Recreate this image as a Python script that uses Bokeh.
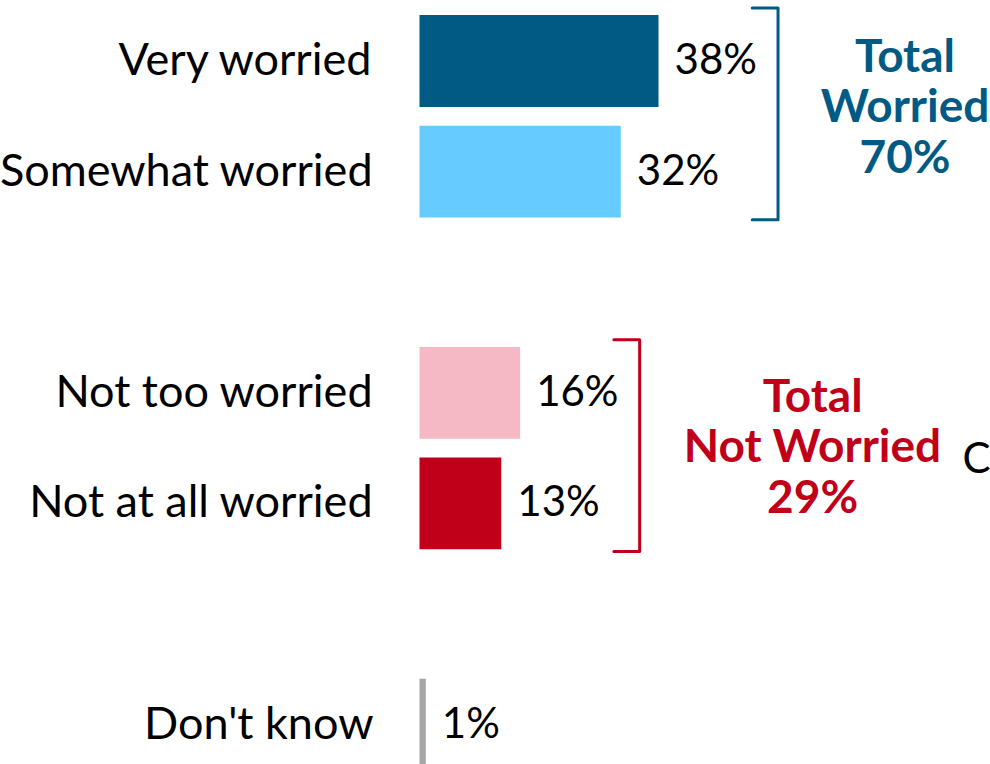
from bokeh.plotting import figure
from bokeh.models import Range1d, ColumnDataSource, Label
from bokeh.core.properties import value
from bokeh.embed import file_html
from bokeh.resources import INLINE

# ---- data ----
categories = ["Very worried", "Somewhat worried", "Not too worried", "Not at all worried", "Don't know"]
percentages = [38, 32, 16, 13, 1]
positions = [0, 1, 3, 4, 6]
bar_colors = ["#005A84", "#66CCFF", "#F4B9C5", "#C00018", "#A6A6A6"]

group_titles = [["Total", "Worried"], ["Total", "Not Worried"]]
group_totals = [70, 29]
group_members = [[0, 1], [2, 3]]
group_colors = ["#005A84", "#C00018"]

# ---- layout (pixels) ----
W, H = 990, 764
X0 = 419.0          # pixel of 0 %
PX_PER_PCT = 6.29
Y0 = 60.5           # pixel centre of position 0
PX_PER_POS = 110.6
FONT = "Lato"
LABEL_SIZE = "45px"
VALUE_SIZE = "42px"

p = figure(width=W, height=H, output_backend="svg", toolbar_location=None,
           x_range=Range1d(-X0 / PX_PER_PCT, (W - X0) / PX_PER_PCT),
           y_range=Range1d((H - Y0) / PX_PER_POS, -Y0 / PX_PER_POS),
           x_axis_location=None, y_axis_location=None,
           min_border=0, border_fill_color="white", background_fill_color="white")
p.grid.visible = False
p.outline_line_color = None

src = ColumnDataSource(dict(
    cat=categories, pct=percentages, pos=positions, color=bar_colors,
    lbl=[f"{v}%" for v in percentages],
))

p.hbar(y="pos", left=0, right="pct", height=0.83, fill_color="color",
       line_color=None, source=src)

# category labels
p.text(x=0, y="pos", text="cat", source=src, x_offset=-46, y_offset=-3,
       text_align="right", text_baseline="alphabetic",
       text_font=value(FONT), text_font_size=LABEL_SIZE, text_color="black")

# value labels
p.text(x="pct", y="pos", text="lbl", source=src, x_offset=16, y_offset=-3,
       text_align="left", text_baseline="alphabetic",
       text_font=value(FONT), text_font_size=VALUE_SIZE, text_color="black")

# brackets and group totals
bracket_gap = 19.0
tick_len = 4.1
text_dx = [127, 173]          # px from bracket to text centre
first_base = [-62, -54]       # px from group centre to first line
line_step = 50.5
for gi, members in enumerate(group_members):
    top = positions[members[0]] - 0.48
    bot = positions[members[-1]] + 0.435
    xv = max(percentages[m] for m in members) + bracket_gap
    p.line(x=[xv - tick_len, xv, xv, xv - tick_len], y=[top, top, bot, bot],
           line_width=3, line_color=group_colors[gi], line_join="round", line_cap="round")
    yc = (positions[members[0]] + positions[members[-1]]) / 2
    lines = group_titles[gi] + [f"{group_totals[gi]}%"]
    for li, t in enumerate(lines):
        p.text(x=[xv], y=[yc], text=[t], x_offset=text_dx[gi],
               y_offset=first_base[gi] + li * line_step,
               text_align="center", text_baseline="alphabetic",
               text_font=value(FONT), text_font_style="bold",
               text_font_size="46px", text_color=group_colors[gi])

# partially visible text at the right edge (kept fully inside the canvas)
p.add_layout(Label(x=962, y=H - 456, x_units="screen", y_units="screen", text="C",
                   text_font=FONT, text_font_size="42px", text_color="black",
                   text_baseline="alphabetic"))

open("out.html", "w").write(file_html(p, INLINE))
